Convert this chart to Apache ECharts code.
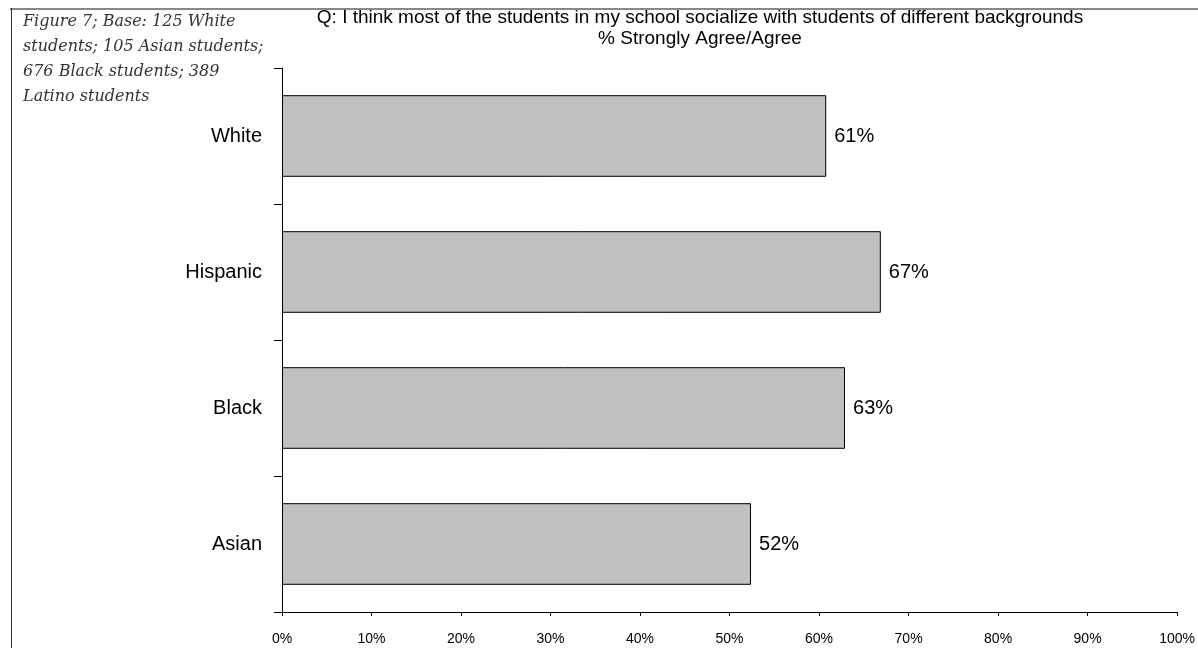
<!DOCTYPE html>
<html>
<head>
<meta charset="utf-8">
<script src="https://cdn.jsdelivr.net/npm/echarts@6/dist/echarts.min.js"></script>
<style>
  html, body { margin: 0; padding: 0; background: #fff; }
  #chart { width: 1198px; height: 648px; }
</style>
</head>
<body>
<div id="chart"></div>
<script>
// Survey groups, top to bottom
const categories = ['White', 'Hispanic', 'Black', 'Asian'];
// Share answering Strongly Agree / Agree (percent)
const agreeShare = [60.8, 66.9, 62.9, 52.4];
// Horizontal axis ticks (percent)
const tickValues = [0, 10, 20, 30, 40, 50, 60, 70, 80, 90, 100];

const titleLines = [
  'Q: I think most of the students in my school socialize with students of different backgrounds',
  '% Strongly Agree/Agree'
];
const captionLines = [
  'Figure 7; Base: 125 White',
  'students; 105 Asian students;',
  '676 Black students; 389',
  'Latino students'
];

const sans = 'Liberation Sans, Arial, sans-serif';
const chart = echarts.init(document.getElementById('chart'));

chart.setOption({
  animation: false,
  backgroundColor: '#fff',
  title: {
    text: titleLines.join('\n'),
    left: 695,
    top: 2,
    textAlign: 'center',
    textStyle: {
      fontFamily: sans,
      fontSize: 19,
      fontWeight: 'normal',
      color: '#000',
      lineHeight: 21
    }
  },
  grid: { left: 282, right: 19, top: 68, bottom: 36, containLabel: false },
  xAxis: {
    type: 'value',
    min: 0,
    max: 100,
    interval: 10,
    axisLine: { show: true, lineStyle: { color: '#000', width: 1 } },
    axisTick: { show: true, length: 4, lineStyle: { color: '#000' } },
    splitLine: { show: false },
    axisLabel: {
      color: '#000',
      fontFamily: sans,
      fontSize: 14,
      margin: 20,
      formatter: v => tickValues.includes(v) ? v + '%' : ''
    }
  },
  yAxis: {
    type: 'category',
    data: categories,
    inverse: true,
    axisLine: { show: true, lineStyle: { color: '#000', width: 1 } },
    axisTick: { show: true, length: 8, inside: false, lineStyle: { color: '#000' } },
    axisLabel: {
      color: '#000',
      fontFamily: sans,
      fontSize: 20,
      margin: 20
    }
  },
  series: [{
    type: 'bar',
    data: agreeShare,
    barWidth: '60%',
    itemStyle: { color: '#c0c0c0', borderColor: '#000', borderWidth: 1 },
    label: {
      show: true,
      position: 'right',
      distance: 8,
      color: '#000',
      fontFamily: sans,
      fontSize: 20,
      formatter: p => Math.round(p.value) + '%'
    }
  }],
  graphic: [
    { type: 'line', shape: { x1: 10, y1: 9, x2: 1198, y2: 9 }, style: { stroke: '#888', lineWidth: 2 } },
    { type: 'line', shape: { x1: 11.5, y1: 8, x2: 11.5, y2: 648 }, style: { stroke: '#333', lineWidth: 1 } },
    {
      type: 'text',
      left: 23,
      top: 9,
      style: {
        text: captionLines.join('\n'),
        font: 'italic 16px "DejaVu Serif", "Liberation Serif", serif',
        lineHeight: 25,
        fill: '#333'
      }
    }
  ]
});
</script>
</body>
</html>
